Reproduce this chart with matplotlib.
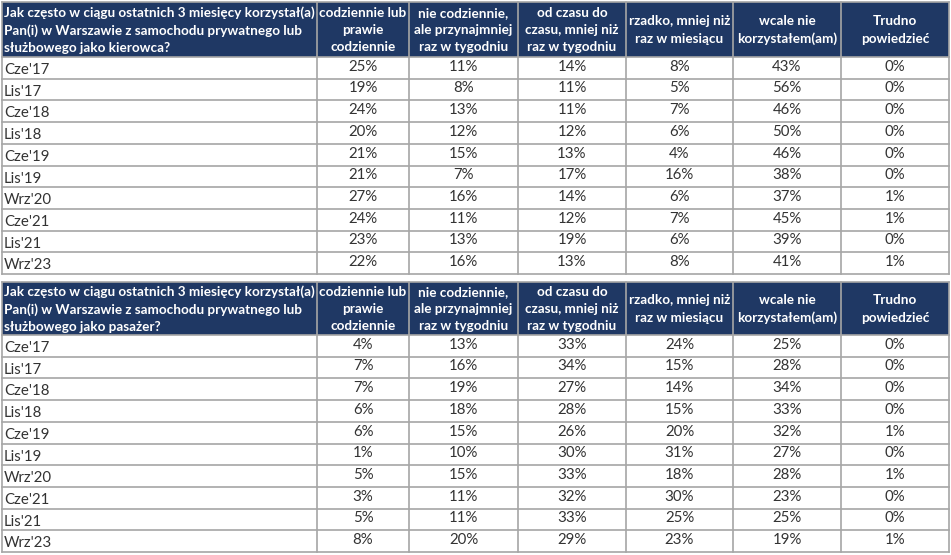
import matplotlib
matplotlib.use("Agg")
import matplotlib.pyplot as plt
from matplotlib.patches import Rectangle

plt.rcParams['font.family'] = ['Lato', 'DejaVu Sans']

columns = ["codziennie lub\nprawie\ncodziennie",
           "nie codziennie,\nale przynajmniej\nraz w tygodniu",
           "od czasu do\nczasu, mniej niż\nraz w tygodniu",
           "rzadko, mniej niż\nraz w miesiącu",
           "wcale nie\nkorzystałem(am)",
           "Trudno\npowiedzieć"]
periods = ["Cze'17", "Lis'17", "Cze'18", "Lis'18", "Cze'19", "Lis'19",
           "Wrz'20", "Cze'21", "Lis'21", "Wrz'23"]

q_driver = ("Jak często w ciągu ostatnich 3 miesięcy korzystał(a)\n"
            "Pan(i) w Warszawie z samochodu prywatnego lub\n"
            "służbowego jako kierowca?")
q_passenger = ("Jak często w ciągu ostatnich 3 miesięcy korzystał(a)\n"
               "Pan(i) w Warszawie z samochodu prywatnego lub\n"
               "służbowego jako pasażer?")

driver = [
    [25, 11, 14, 8, 43, 0],
    [19, 8, 11, 5, 56, 0],
    [24, 13, 11, 7, 46, 0],
    [20, 12, 12, 6, 50, 0],
    [21, 15, 13, 4, 46, 0],
    [21, 7, 17, 16, 38, 0],
    [27, 16, 14, 6, 37, 1],
    [24, 11, 12, 7, 45, 1],
    [23, 13, 19, 6, 39, 0],
    [22, 16, 13, 8, 41, 1],
]
passenger = [
    [4, 13, 33, 24, 25, 0],
    [7, 16, 34, 15, 28, 0],
    [7, 19, 27, 14, 34, 0],
    [6, 18, 28, 15, 33, 0],
    [6, 15, 26, 20, 32, 1],
    [1, 10, 30, 31, 27, 0],
    [5, 15, 33, 18, 28, 1],
    [3, 11, 32, 30, 23, 0],
    [5, 11, 33, 25, 25, 0],
    [8, 20, 29, 23, 19, 1],
]

W, H = 951, 555
fig = plt.figure(figsize=(W / 100, H / 100), dpi=100)
ax = fig.add_axes([0, 0, 1, 1])
ax.set_xlim(0, W)
ax.set_ylim(H, 0)
ax.axis('off')

col_edges = [2, 317, 409, 518, 626, 733, 841, 949]
HEADER_BG = '#1f3864'
GRID = '#a6a6a6'
TXT = '#333333'
ROW_H = 21.7
FS_HEAD = 9.7
FS_BODY = 10.8


def draw_table(top, header_h, question, data):
    # header
    ax.add_patch(Rectangle((col_edges[0], top), col_edges[-1] - col_edges[0], header_h,
                           facecolor=HEADER_BG, edgecolor='none', zorder=1))
    for x in col_edges:
        ax.plot([x, x], [top, top + header_h], color=GRID, lw=1.2, zorder=2)
    ax.plot([col_edges[0], col_edges[-1]], [top, top], color=GRID, lw=1.2, zorder=2)
    ymid = top + header_h / 2 + 0.5
    ax.text(col_edges[0] + 2, ymid, question, ha='left', va='center', color='white',
            fontsize=FS_HEAD, fontweight='bold', linespacing=1.52, zorder=3)
    for i, c in enumerate(columns):
        xc = (col_edges[i + 1] + col_edges[i + 2]) / 2
        ax.text(xc, ymid, c, ha='center', va='center', color='white',
                fontsize=FS_HEAD, fontweight='bold', linespacing=1.52, zorder=3)
    # body
    y0 = top + header_h
    n = len(data)
    for r, (p, row) in enumerate(zip(periods, data)):
        yt = y0 + r * ROW_H
        ax.text(col_edges[0] + 2, yt + ROW_H * 0.6, p, ha='left', va='center',
                color=TXT, fontsize=FS_BODY, zorder=3)
        for j, v in enumerate(row):
            xc = (col_edges[j + 1] + col_edges[j + 2]) / 2
            ax.text(xc, yt + ROW_H * 0.45, f"{v}%", ha='center', va='center',
                    color=TXT, fontsize=FS_BODY, zorder=3)
    for r in range(n + 1):
        yy = y0 + r * ROW_H
        ax.plot([col_edges[0], col_edges[-1]], [yy, yy], color=GRID, lw=1.2, zorder=2)
    for x in col_edges:
        ax.plot([x, x], [y0, y0 + n * ROW_H], color=GRID, lw=1.2, zorder=2)


draw_table(2, 55, q_driver, driver)
draw_table(282, 53, q_passenger, passenger)

fig.savefig('out.png', dpi=100, facecolor='white')
